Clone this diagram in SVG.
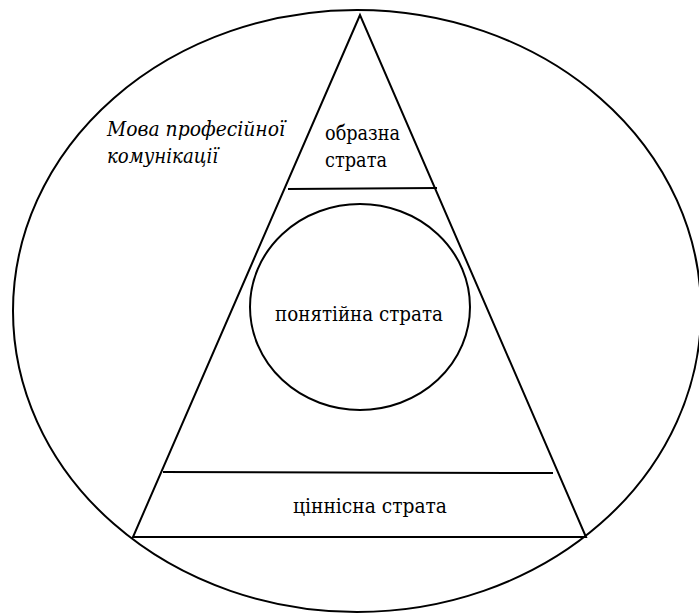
<svg xmlns="http://www.w3.org/2000/svg" width="699" height="614" viewBox="0 0 699 614">
<style>
.ln{fill:none;stroke:#000;stroke-width:2}
text{fill:#000;font-size:21px;font-family:"DejaVu Serif",serif}
.ti{font-style:italic}
</style>
<rect width="699" height="614" fill="#fff"/>
<g id="outer">
<ellipse class="ln" cx="357" cy="311" rx="344" ry="301"/>
<text class="ti" x="107" y="136" textLength="178" lengthAdjust="spacingAndGlyphs">Мова професійної</text>
<text class="ti" x="107" y="163" textLength="111" lengthAdjust="spacingAndGlyphs">комунікації</text>
</g>
<g id="pyramid">
<polygon class="ln" points="360,15 133,537 586,537"/>
</g>
<g id="obrazna">
<line class="ln" x1="288" y1="189" x2="437" y2="188"/>
<text x="325" y="140" textLength="75" lengthAdjust="spacingAndGlyphs">образна</text>
<text x="325" y="167" textLength="62" lengthAdjust="spacingAndGlyphs">страта</text>
</g>
<g id="ponyatiina">
<ellipse class="ln" cx="360" cy="307" rx="110" ry="103"/>
<text x="275" y="321" textLength="168" lengthAdjust="spacingAndGlyphs">понятійна страта</text>
</g>
<g id="tsinnisna">
<line class="ln" x1="163" y1="472" x2="553" y2="473"/>
<text x="293" y="513" textLength="154" lengthAdjust="spacingAndGlyphs">ціннісна страта</text>
</g>
</svg>
